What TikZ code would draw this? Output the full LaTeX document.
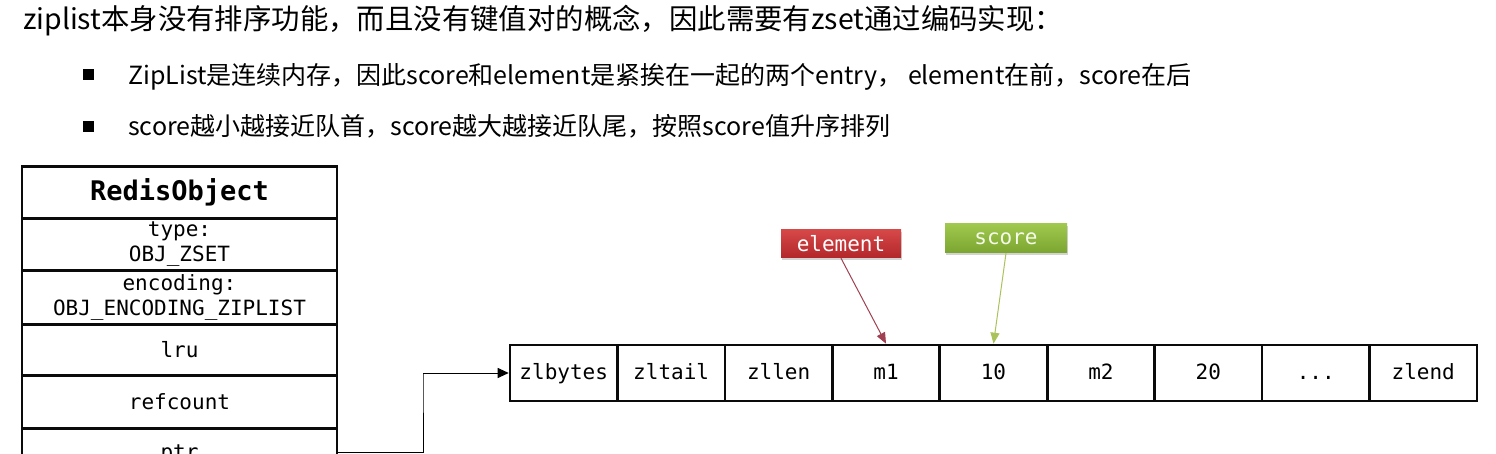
\documentclass[tikz,border=0pt]{standalone}
\usepackage{fontspec}
\setmonofont{DejaVu Sans Mono}
\newfontfamily\cjk{Noto Sans CJK SC}
\usetikzlibrary{arrows.meta,shadows}
\definecolor{elredtop}{RGB}{214,72,72}
\definecolor{elredbot}{RGB}{178,38,42}
\definecolor{scgrntop}{RGB}{160,200,78}
\definecolor{scgrnbot}{RGB}{122,165,48}
\definecolor{elarrow}{RGB}{160,64,80}
\definecolor{scarrow}{RGB}{170,194,92}
\definecolor{boxline}{RGB}{10,10,10}
\tikzset{
  rowbox/.style={draw=boxline, line width=2.6pt, minimum width=315pt, inner sep=0pt,
    font=\ttfamily\fontsize{21}{25}\selectfont, align=center, anchor=north},
  cellbox/.style={draw=boxline, line width=2.6pt, minimum width=107.44pt, minimum height=56pt,
    inner sep=0pt, text height=16pt, text depth=4pt, font=\ttfamily\fontsize{21}{25}\selectfont},
  tagred/.style={top color=elredtop, bottom color=elredbot, draw=none, text=white,
    minimum width=120pt, minimum height=28pt, inner sep=0pt,
    font=\ttfamily\fontsize{21}{25}\selectfont,
    drop shadow={opacity=0.35, shadow xshift=1pt, shadow yshift=-2pt}},
  taggreen/.style={top color=scgrntop, bottom color=scgrnbot, draw=none, text={rgb,255:red,245;green,250;blue,235},
    minimum width=122pt, minimum height=29pt, inner sep=0pt,
    font=\ttfamily\fontsize{21}{25}\selectfont,
    drop shadow={opacity=0.35, shadow xshift=1pt, shadow yshift=-2pt}},
  bulletsq/.style={fill=black, minimum size=11pt, inner sep=0pt},
  btext/.style={anchor=base west, inner sep=0pt, font=\cjk\fontsize{25}{30}\selectfont},
  ptrarrow/.style={draw=black, line width=1pt, -{Triangle[length=11pt,width=10pt]}},
}
\begin{document}
\begin{tikzpicture}[x=1pt,y=-1pt]
\useasboundingbox (0,0) rectangle (1496,454);
\clip (0,0) rectangle (1496,454);

% heading
\node[anchor=base west, inner sep=0pt, font=\cjk\fontsize{28.4}{32}\selectfont] (title) at (23,30)
  {ziplist本身没有排序功能，而且没有键值对的概念，因此需要有zset通过编码实现：};
\node[bulletsq] (b1) at (88,75) {};
\node[btext] (t1) at (128,85)
  {ZipList是连续内存，因此score和element是紧挨在一起的两个entry， element在前，score在后};
\node[bulletsq] (b2) at (88,127) {};
\node[btext] (t2) at (128,136)
  {score越小越接近队首，score越大越接近队尾，按照score值升序排列};

% RedisObject
\node[rowbox, minimum height=52pt, font=\ttfamily\bfseries\fontsize{27}{30}\selectfont] (ro) at (179.5,165) {RedisObject};
\node[rowbox, minimum height=52pt] (type) at (179.5,217) {type:\\OBJ\_ZSET};
\node[rowbox, minimum height=54pt] (enc) at (179.5,269) {encoding:\\OBJ\_ENCODING\_ZIPLIST};
\node[rowbox, minimum height=51pt] (lru) at (179.5,323) {lru};
\node[rowbox, minimum height=53pt] (ref) at (179.5,374) {refcount};
\node[rowbox, minimum height=53pt] (ptr) at (179.5,427) {ptr};

% ziplist cells
\node[cellbox] (zlbytes) at (563.72,373) {zlbytes};
\node[cellbox] (zltail) at (671.16,373) {zltail};
\node[cellbox] (zllen) at (778.60,373) {zllen};
\node[cellbox] (m1) at (886.04,373) {m1};
\node[cellbox] (s10) at (993.48,373) {10};
\node[cellbox] (m2) at (1100.92,373) {m2};
\node[cellbox] (s20) at (1208.36,373) {20};
\node[cellbox] (dots) at (1315.80,373) {{.}{.}{.}};
\node[cellbox] (zlend) at (1423.24,373) {zlend};

% pointer arrow
\coordinate (pstart) at ([yshift=2pt]ptr.east);
\coordinate (bend) at (423,374);
\draw[ptrarrow] (pstart) -| (bend) |- (zlbytes.west);

% tags
\node[tagred] (eltag) at (841,244) {element};
\node[taggreen] (sctag) at (1006,238.5) {score};
\draw[elarrow, line width=1pt, -{Triangle[length=11pt,width=9pt]}] (eltag.south) -- (m1.north);
\draw[scarrow, line width=1pt, -{Triangle[length=11pt,width=9pt]}] (sctag.south) -- (s10.north);
\end{tikzpicture}
\end{document}
